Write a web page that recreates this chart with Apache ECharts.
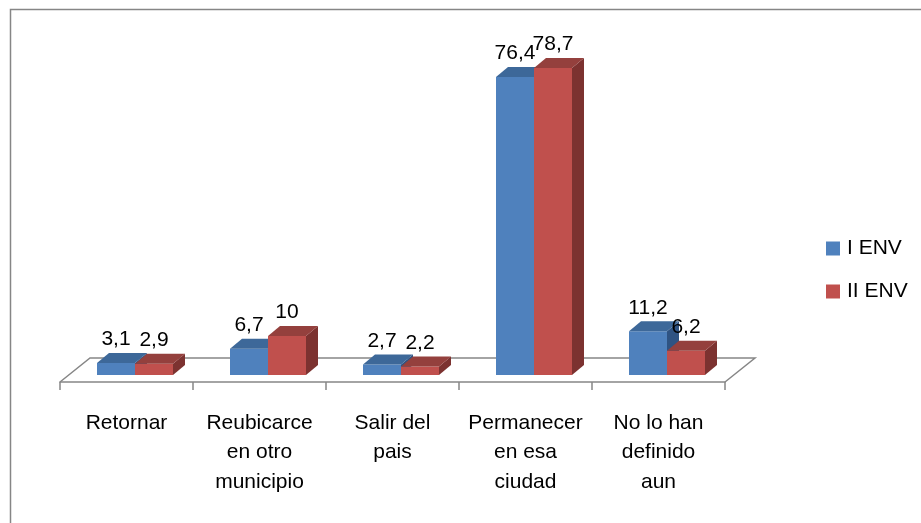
<!DOCTYPE html>
<html>
<head>
<meta charset="utf-8">
<script src="https://cdn.jsdelivr.net/npm/echarts@6/dist/echarts.min.js"></script>
<style>
html,body{margin:0;padding:0;background:#fff;}
#chart{width:921px;height:523px;}
</style>
</head>
<body>
<div id="chart"></div>
<script>
const categories = ['Retornar', 'Reubicarce\nen otro\nmunicipio', 'Salir del\npais', 'Permanecer\nen esa\nciudad', 'No lo han\ndefinido\naun'];
const seriesNames = ['I ENV', 'II ENV'];
const valuesI = [3.1, 6.7, 2.7, 76.4, 11.2];
const valuesII = [2.9, 10, 2.2, 78.7, 6.2];

const FONT = 'Liberation Sans';
const BAR_OFF_X = 8.5, BAR_OFF_Y = -7;   // bars sit mid-depth on the floor
const DX = 12, DY = -10;                 // bar depth
const FLOOR_DX = 30, FLOOR_DY = -24;     // floor depth
const BAR_FRAC = 0.2857;

function fmt(v) { return String(v).replace('.', ','); }

function makeBar(idx, face, topC, side) {
  return function (params, api) {
    const ci = api.value(0), v = api.value(1);
    const base = api.coord([ci, 0]);
    const top = api.coord([ci, v]);
    const band = api.size([1, 0])[0];
    const bw = band * BAR_FRAC;
    const cx = base[0] + BAR_OFF_X;
    const x0 = idx === 0 ? cx - bw : cx;
    const x1 = x0 + bw;
    const yb = base[1] + BAR_OFF_Y;
    const yt = top[1] + BAR_OFF_Y;
    return {
      type: 'group',
      children: [
        { type: 'polygon', shape: { points: [[x1, yt], [x1 + DX, yt + DY], [x1 + DX, yb + DY], [x1, yb]] }, style: { fill: side } },
        { type: 'rect', shape: { x: x0, y: yt, width: bw, height: yb - yt }, style: { fill: face } },
        { type: 'polygon', shape: { points: [[x0, yt], [x1, yt], [x1 + DX, yt + DY], [x0 + DX, yt + DY]] }, style: { fill: topC } },
        { type: 'text', x: (x0 + x1) / 2, y: yt - 13, style: { text: fmt(v), fill: '#000', font: '21px "' + FONT + '"', align: 'center', verticalAlign: 'bottom' } }
      ]
    };
  };
}

const chart = echarts.init(document.getElementById('chart'));
chart.setOption({
  animation: false,
  backgroundColor: '#fff',
  color: ['#4F81BD', '#C0504D'],
  graphic: [{
    type: 'rect', left: 8, top: 7,
    shape: { width: 960, height: 560 },
    style: { fill: 'none', stroke: '#868686', lineWidth: 1.5 }
  }],
  grid: { left: 60, right: 196, top: 70, bottom: 141 },
  legend: {
    data: seriesNames,
    orient: 'vertical',
    left: 821, top: 233,
    itemWidth: 14, itemHeight: 14, itemGap: 22,
    icon: 'rect',
    textStyle: { fontFamily: FONT, fontSize: 21, color: '#000', padding: [0, 0, 0, 2] }
  },
  xAxis: {
    type: 'category',
    data: categories,
    axisLine: { show: true, lineStyle: { color: '#868686', width: 1.5 } },
    axisTick: { show: true, length: 8, lineStyle: { color: '#868686', width: 1.5 } },
    axisLabel: { interval: 0, fontFamily: FONT, fontSize: 21, lineHeight: 29.5, color: '#000', margin: 26 }
  },
  yAxis: { type: 'value', min: 0, max: 80, show: false, splitLine: { show: false } },
  series: [
    {
      name: 'floor', type: 'custom', silent: true, z: 1,
      data: [[0, 0]],
      renderItem: function (params, api) {
        const cs = params.coordSys;
        const xl = cs.x, xr = cs.x + cs.width, yf = cs.y + cs.height;
        return {
          type: 'polyline',
          shape: { points: [[xl, yf], [xl + FLOOR_DX, yf + FLOOR_DY], [xr + FLOOR_DX, yf + FLOOR_DY], [xr, yf]] },
          style: { fill: null, stroke: '#868686', lineWidth: 1.5 }
        };
      }
    },
    {
      name: seriesNames[0], type: 'custom', z: 2,
      itemStyle: { color: '#4F81BD' },
      data: valuesI.map((v, i) => [i, v]),
      renderItem: makeBar(0, '#4F81BD', '#3D6899', '#2F5382')
    },
    {
      name: seriesNames[1], type: 'custom', z: 3,
      itemStyle: { color: '#C0504D' },
      data: valuesII.map((v, i) => [i, v]),
      renderItem: makeBar(1, '#C0504D', '#94403D', '#7C3230')
    }
  ]
});
</script>
</body>
</html>
